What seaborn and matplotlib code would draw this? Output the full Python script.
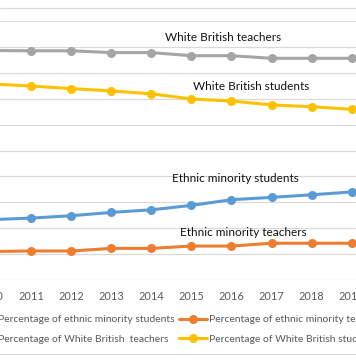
import pandas as pd
import matplotlib.pyplot as plt
from matplotlib.lines import Line2D
import seaborn as sns

# values (percent)
years = [2010, 2011, 2012, 2013, 2014, 2015, 2016, 2017, 2018, 2019]
em_students = [23.3, 23.9, 24.8, 26.1, 27.1, 28.8, 31.0, 31.9, 32.9, 34.0]
em_teachers = [11.0, 11.2, 11.2, 12.2, 12.2, 13.1, 13.1, 14.2, 14.2, 14.2]
wb_teachers = [88.6, 88.5, 88.5, 87.8, 87.8, 86.6, 86.6, 85.6, 85.6, 85.6]
wb_students = [75.7, 74.9, 73.9, 73.0, 71.9, 69.9, 69.1, 67.6, 66.9, 65.9]

series_names = ["Percentage of ethnic minority students",
                "Percentage of ethnic minority teachers",
                "Percentage of White British  teachers",
                "Percentage of White British students"]
colors = ["#5B9BD5", "#ED7D31", "#A5A5A5", "#FFC000"]

labels = ["White British teachers", "White British students",
          "Ethnic minority students", "Ethnic minority teachers"]
label_pos = [(2015.8, 93.8), (2016.5, 74.6), (2016.1, 39.0), (2016.3, 18.4)]

df = pd.DataFrame({
    "year": years * 4,
    "value": em_students + em_teachers + wb_teachers + wb_students,
    "series": sum([[s] * len(years) for s in series_names], []),
})

sns.set_style("white")
plt.rcParams["font.family"] = ["Lato", "DejaVu Sans"]
fs = 8.5
fs_small = 7.9
fs_leg = 7.5

W, H = 356, 364
fig = plt.figure(figsize=(W / 100, H / 100), dpi=100)
# plot area is wider than the crop on both sides
ax = fig.add_axes([-29.2 / W, 84 / H, 401 / W, 259 / H])

sns.lineplot(data=df, x="year", y="value", hue="series", hue_order=series_names,
             palette=colors, marker="o", markersize=6.5, markeredgewidth=0,
             linewidth=2.2, legend=False, ax=ax)

ax.set_xlim(2009.5, 2019.5)
ax.set_ylim(0, 100)
ax.set_yticks(range(0, 101, 10))
ax.set_xticks(years)
ax.set_xticklabels([str(y) for y in years])
ax.yaxis.grid(True, color="#D9D9D9", linewidth=0.9)
ax.set_axisbelow(True)
for sp in ax.spines.values():
    sp.set_visible(False)
ax.tick_params(axis="x", length=0, pad=8, labelsize=fs_small, labelcolor="#595959")
ax.tick_params(axis="y", length=0, labelleft=False)
ax.set_xlabel("")
ax.set_ylabel("")

for txt, (x, y) in zip(labels, label_pos):
    ax.text(x, y, txt, ha="center", va="center", fontsize=fs, color="#111111")

# chart border (top and bottom visible in the crop)
for yy in (8, 354):
    fig.add_artist(Line2D([0, 1], [1 - yy / H, 1 - yy / H], color="#D9D9D9",
                          linewidth=0.9, transform=fig.transFigure))

handles = ax.get_lines()[:4]
leg_kw = dict(loc="upper left", frameon=False, fontsize=fs_leg, handlelength=2.7,
              handletextpad=0.2, labelspacing=1.0, borderpad=0, borderaxespad=0,
              labelcolor="#595959")
leg1 = fig.legend([handles[0], handles[2]], [series_names[0], series_names[2]],
                  bbox_to_anchor=(-32 / W, 1 - 315 / H), **leg_kw)
leg2 = fig.legend([handles[1], handles[3]], [series_names[1], series_names[3]],
                  bbox_to_anchor=(179 / W, 1 - 315 / H), **leg_kw)

fig.savefig("out.png", dpi=100)
